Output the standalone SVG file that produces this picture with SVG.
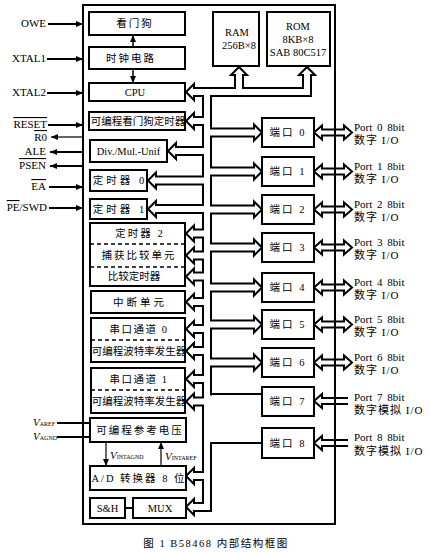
<svg xmlns="http://www.w3.org/2000/svg" width="430" height="553" viewBox="0 0 430 553">
<style>
.bx{fill:#fff;stroke:#000;stroke-width:2}
.dl{stroke:#000;stroke-width:1.5;stroke-dasharray:4 3;fill:none}
.t{font-family:"Liberation Serif","Noto Sans CJK SC",serif;font-size:10.5px;fill:#000;text-anchor:middle;dominant-baseline:central}
.l{font-family:"Liberation Serif","Noto Sans CJK SC",serif;font-size:11px;fill:#000;text-anchor:end;dominant-baseline:central}
.p{font-family:"Liberation Serif","Noto Sans CJK SC",serif;font-size:11px;fill:#000;text-anchor:start;dominant-baseline:central}
.ln{stroke:#000;stroke-width:2;fill:none}
.bk{stroke:#000;stroke-width:10;fill:none;stroke-linejoin:miter}
.wh{stroke:#fff;stroke-width:6;fill:none;stroke-linejoin:miter}
.bk2{stroke:#000;stroke-width:8;fill:none}
.wh2{stroke:#fff;stroke-width:4;fill:none}
.hd{fill:#fff;stroke:#000;stroke-width:2;stroke-linejoin:miter}
.ov{text-decoration:overline}
</style>
<defs>
<marker id="ar" markerUnits="userSpaceOnUse" markerWidth="7" markerHeight="6" refX="7" refY="3" orient="auto"><path d="M0,0 L7,3 L0,6 z" fill="#000"/></marker>
</defs>
<rect width="430" height="553" fill="#fff"/>

<g id="bus">
<path class="bk" d="M194,92 H307 V75 M239,92 V75 M207,92 V507 H194 M207,121 H194 M207,151 H176 M207,180.5 H156 M207,209 H156 M207,233.5 H194 M207,255.5 H194 M207,276.5 H194 M207,302 H194 M207,329 H194 M207,351 H194 M207,379 H194 M207,401.5 H194 M207,476 H194 M207,132.5 H254 M207,171.5 H254 M207,209.5 H254 M207,247.5 H254 M207,287.5 H254 M207,324.5 H254 M207,362.5 H254"/>
<g class="hd">
<polygon points="239,67 231,75 247,75"/>
<polygon points="307,67 299,75 315,75"/>
<polygon points="186,92 194,84 194,100"/>
<polygon points="186,121 194,113 194,129"/>
<polygon points="168,151 176,143 176,159"/>
<polygon points="148,180.5 156,172.5 156,188.5"/>
<polygon points="148,209 156,201 156,217"/>
<polygon points="186,233.5 194,225.5 194,241.5"/>
<polygon points="186,255.5 194,247.5 194,263.5"/>
<polygon points="186,276.5 194,268.5 194,284.5"/>
<polygon points="186,302 194,294 194,310"/>
<polygon points="186,329 194,321 194,337"/>
<polygon points="186,351 194,343 194,359"/>
<polygon points="186,379 194,371 194,387"/>
<polygon points="186,401.5 194,393.5 194,409.5"/>
<polygon points="186,476 194,468 194,484"/>
<polygon points="186,507 194,499 194,515"/>
<polygon points="262,132.5 254,124.5 254,140.5"/>
<polygon points="262,171.5 254,163.5 254,179.5"/>
<polygon points="262,209.5 254,201.5 254,217.5"/>
<polygon points="262,247.5 254,239.5 254,255.5"/>
<polygon points="262,287.5 254,279.5 254,295.5"/>
<polygon points="262,324.5 254,316.5 254,332.5"/>
<polygon points="262,362.5 254,354.5 254,370.5"/>
</g>
<path class="wh" d="M192.5,92 H307 V73.5 M239,92 V73.5 M207,92 V507 H192.5 M207,121 H192.5 M207,151 H174.5 M207,180.5 H154.5 M207,209 H154.5 M207,233.5 H192.5 M207,255.5 H192.5 M207,276.5 H192.5 M207,302 H192.5 M207,329 H192.5 M207,351 H192.5 M207,379 H192.5 M207,401.5 H192.5 M207,476 H192.5 M207,132.5 H255.5 M207,171.5 H255.5 M207,209.5 H255.5 M207,247.5 H255.5 M207,287.5 H255.5 M207,324.5 H255.5 M207,362.5 H255.5"/>
<rect x="209.5" y="395.5" width="3.5" height="46.5" fill="#fff"/>
<path class="ln" d="M210,394 H262 M210,443 H262"/>
</g>

<g id="port-io">
<path class="bk2" d="M322,132.5 H344 M322,171.5 H344 M322,209.5 H344 M322,247.5 H344 M322,287.5 H344 M322,324.5 H344 M322,362.5 H344 M322,401 H348 M322,443 H348"/>
<g class="hd">
<polygon points="314,132.5 322,125.5 322,139.5"/><polygon points="352,132.5 344,125.5 344,139.5"/>
<polygon points="314,171.5 322,164.5 322,178.5"/><polygon points="352,171.5 344,164.5 344,178.5"/>
<polygon points="314,209.5 322,202.5 322,216.5"/><polygon points="352,209.5 344,202.5 344,216.5"/>
<polygon points="314,247.5 322,240.5 322,254.5"/><polygon points="352,247.5 344,240.5 344,254.5"/>
<polygon points="314,287.5 322,280.5 322,294.5"/><polygon points="352,287.5 344,280.5 344,294.5"/>
<polygon points="314,324.5 322,317.5 322,331.5"/><polygon points="352,324.5 344,317.5 344,331.5"/>
<polygon points="314,362.5 322,355.5 322,369.5"/><polygon points="352,362.5 344,355.5 344,369.5"/>
<polygon points="314,401 322,394 322,408"/>
<polygon points="314,443 322,436 322,450"/>
</g>
<path class="wh2" d="M320.5,132.5 H345.5 M320.5,171.5 H345.5 M320.5,209.5 H345.5 M320.5,247.5 H345.5 M320.5,287.5 H345.5 M320.5,324.5 H345.5 M320.5,362.5 H345.5 M320.5,401 H349 M320.5,443 H349"/>
</g>

<rect id="frame" x="83" y="5" width="252" height="519" fill="none" stroke="#000" stroke-width="2"/>

<g id="signals">
<line class="ln" x1="48" y1="24" x2="83" y2="24" marker-end="url(#ar)"/>
<line class="ln" x1="47" y1="59" x2="83" y2="59" marker-end="url(#ar)"/>
<line class="ln" x1="47" y1="93" x2="83" y2="93" marker-end="url(#ar)"/>
<line class="ln" x1="48" y1="125" x2="83" y2="125" marker-end="url(#ar)"/>
<line stroke="#000" stroke-width="1.2" x1="83" y1="137" x2="51" y2="137" marker-end="url(#ar)"/>
<line class="ln" x1="83" y1="152" x2="50" y2="152" marker-end="url(#ar)"/>
<line class="ln" x1="83" y1="166" x2="50" y2="166" marker-end="url(#ar)"/>
<line class="ln" x1="49" y1="187" x2="83" y2="187" marker-end="url(#ar)"/>
<line class="ln" x1="49" y1="208" x2="83" y2="208" marker-end="url(#ar)"/>
<line stroke="#000" stroke-width="1.5" x1="133" y1="47" x2="133" y2="35" marker-end="url(#ar)"/>
<line stroke="#000" stroke-width="1.5" x1="133" y1="69" x2="133" y2="83" marker-end="url(#ar)"/>
<line class="ln" x1="57" y1="423" x2="90" y2="423"/>
<line class="ln" x1="57" y1="437" x2="90" y2="437"/>
<line stroke="#000" stroke-width="1.2" x1="106" y1="442" x2="106" y2="466" marker-end="url(#ar)"/>
<line stroke="#000" stroke-width="1.2" x1="161" y1="466" x2="161" y2="442" marker-end="url(#ar)"/>
<line class="ln" x1="125" y1="508" x2="133" y2="508"/>
</g>

<g id="ext-labels">
<text class="l" x="46" y="23">OWE</text>
<text class="l" x="46" y="58">XTAL1</text>
<text class="l" x="46" y="92">XTAL2</text>
<text class="l" x="47" y="124"><tspan class="ov">RESET</tspan></text>
<text class="l" x="47" y="137"><tspan class="ov">R0</tspan></text>
<text class="l" x="46" y="151">ALE</text>
<text class="l" x="46" y="165"><tspan class="ov">PSEN</tspan></text>
<text class="l" x="46" y="186"><tspan class="ov">EA</tspan></text>
<text class="l" x="47" y="207"><tspan class="ov">PE</tspan>/SWD</text>
<text class="p" x="33" y="422"><tspan font-style="italic">V</tspan><tspan font-size="6" dy="2">AREF</tspan></text>
<text class="p" x="33" y="436"><tspan font-style="italic">V</tspan><tspan font-size="6" dy="2">AGND</tspan></text>
<text class="p" x="110" y="455"><tspan font-style="italic">V</tspan><tspan font-size="6" dy="2">INTAGND</tspan></text>
<text class="p" x="165" y="456"><tspan font-style="italic">V</tspan><tspan font-size="6" dy="2">INTAREF</tspan></text>
</g>

<g id="wd"><rect class="bx" x="89" y="12" width="96" height="23"/><text class="t" x="135" y="23.5" letter-spacing="2">看门狗</text></g>
<g id="clk"><rect class="bx" x="89" y="47" width="96" height="22"/><text class="t" x="131" y="58" letter-spacing="2">时钟电路</text></g>
<g id="cpu"><rect class="bx" x="89" y="83" width="96" height="18"/><text class="t" x="135" y="92">CPU</text></g>
<g id="pwdt"><rect class="bx" x="89" y="112" width="96" height="18"/><text class="t" x="138" y="121" font-size="10">可编程看门狗定时器</text></g>
<g id="div"><rect class="bx" x="90" y="140" width="77" height="22"/><text class="t" x="128.5" y="151">Div./Mul.-Unif</text></g>
<g id="t0"><rect class="bx" x="90" y="170" width="57" height="21"/><text class="t" x="120" y="180.5" letter-spacing="3">定时器 0</text></g>
<g id="t1"><rect class="bx" x="90" y="199" width="57" height="20"/><text class="t" x="120" y="209" letter-spacing="3">定时器 1</text></g>
<g id="t2"><rect class="bx" x="90" y="223" width="95" height="63"/><line class="dl" x1="90" y1="244" x2="185" y2="244"/><line class="dl" x1="90" y1="267" x2="185" y2="267"/>
<text class="t" x="140" y="233.5" letter-spacing="2">定时器 2</text><text class="t" x="139" y="255.5" letter-spacing="2">捕获比较单元</text><text class="t" x="134" y="276.5">比较定时器</text></g>
<g id="int"><rect class="bx" x="91" y="291" width="94" height="22"/><text class="t" x="140" y="302" letter-spacing="3">中断单元</text></g>
<g id="s0"><rect class="bx" x="91" y="318" width="94" height="44"/><line class="dl" x1="91" y1="340" x2="185" y2="340"/>
<text class="t" x="139" y="329" letter-spacing="1.5">串口通道 0</text><text class="t" x="139" y="351" font-size="10">可编程波特率发生器</text></g>
<g id="s1"><rect class="bx" x="91" y="368" width="94" height="45"/><line class="dl" x1="91" y1="390" x2="185" y2="390"/>
<text class="t" x="139" y="379" letter-spacing="1.5">串口通道 1</text><text class="t" x="139" y="401.5" font-size="10">可编程波特率发生器</text></g>
<g id="vref"><rect class="bx" x="90" y="418" width="96" height="24"/><text class="t" x="140" y="430" letter-spacing="2">可编程参考电压</text></g>
<g id="adc"><rect class="bx" x="90" y="466" width="96" height="24"/><text class="t" x="139" y="478" letter-spacing="2">A/D 转换器 8 位</text></g>
<g id="sh"><rect class="bx" x="90" y="498" width="35" height="20"/><text class="t" x="107.5" y="508">S&amp;H</text></g>
<g id="mux"><rect class="bx" x="133" y="498" width="53" height="20"/><text class="t" x="160" y="508">MUX</text></g>
<g id="ram"><rect class="bx" x="213" y="12" width="46" height="54"/><text class="t" x="237" y="32">RAM</text><text class="t" x="239" y="45">256B×8</text></g>
<g id="rom"><rect class="bx" x="267" y="12" width="63" height="54"/><text class="t" x="298" y="26">ROM</text><text class="t" x="298" y="39">8KB×8</text><text class="t" x="298" y="52">SAB 80C517</text></g>

<g id="p0"><rect class="bx" x="262" y="118" width="52" height="29"/><text class="t" x="288" y="132.5" letter-spacing="2">端口 0</text></g>
<g id="p1"><rect class="bx" x="262" y="157" width="52" height="29"/><text class="t" x="288" y="171.5" letter-spacing="2">端口 1</text></g>
<g id="p2"><rect class="bx" x="262" y="195" width="52" height="29"/><text class="t" x="288" y="209.5" letter-spacing="2">端口 2</text></g>
<g id="p3"><rect class="bx" x="262" y="233" width="52" height="29"/><text class="t" x="288" y="247.5" letter-spacing="2">端口 3</text></g>
<g id="p4"><rect class="bx" x="262" y="273" width="52" height="29"/><text class="t" x="288" y="287.5" letter-spacing="2">端口 4</text></g>
<g id="p5"><rect class="bx" x="262" y="310" width="52" height="29"/><text class="t" x="288" y="324.5" letter-spacing="2">端口 5</text></g>
<g id="p6"><rect class="bx" x="262" y="348" width="52" height="29"/><text class="t" x="288" y="362.5" letter-spacing="2">端口 6</text></g>
<g id="p7"><rect class="bx" x="262" y="387" width="52" height="29"/><text class="t" x="288" y="401.5" letter-spacing="2">端口 7</text></g>
<g id="p8"><rect class="bx" x="262" y="428" width="52" height="30"/><text class="t" x="288" y="443" letter-spacing="2">端口 8</text></g>

<g id="port-labels">
<text class="p" x="354" y="126.5" word-spacing="2">Port 0 8bit</text><text class="p" x="354" y="139.5" letter-spacing="1">数字 I/O</text>
<text class="p" x="354" y="165.5" word-spacing="2">Port 1 8bit</text><text class="p" x="354" y="178.5" letter-spacing="1">数字 I/O</text>
<text class="p" x="354" y="203.5" word-spacing="2">Port 2 8bit</text><text class="p" x="354" y="216.5" letter-spacing="1">数字 I/O</text>
<text class="p" x="354" y="241.5" word-spacing="2">Port 3 8bit</text><text class="p" x="354" y="254.5" letter-spacing="1">数字 I/O</text>
<text class="p" x="354" y="281.5" word-spacing="2">Port 4 8bit</text><text class="p" x="354" y="294.5" letter-spacing="1">数字 I/O</text>
<text class="p" x="354" y="318.5" word-spacing="2">Port 5 8bit</text><text class="p" x="354" y="331.5" letter-spacing="1">数字 I/O</text>
<text class="p" x="354" y="356.5" word-spacing="2">Port 6 8bit</text><text class="p" x="354" y="369.5" letter-spacing="1">数字 I/O</text>
<text class="p" x="354" y="396.5" word-spacing="2">Port 7 8bit</text><text class="p" x="354" y="410" letter-spacing="1">数字模拟 I/O</text>
<text class="p" x="354" y="437" word-spacing="2">Port 8 8bit</text><text class="p" x="354" y="450.5" letter-spacing="1">数字模拟 I/O</text>
</g>

<text id="caption" class="t" x="216" y="543" font-size="11" letter-spacing="1.5">图 1 B58468 内部结构框图</text>
</svg>
